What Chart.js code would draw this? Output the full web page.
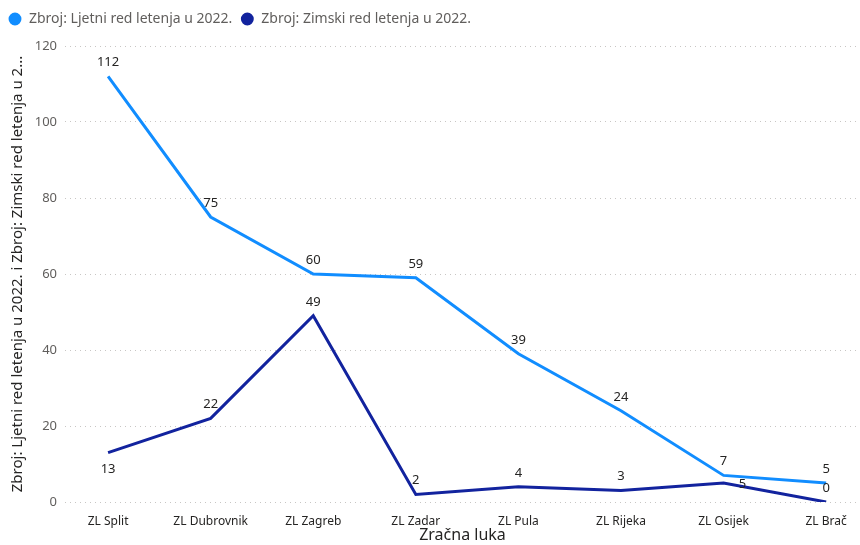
<!DOCTYPE html>
<html>
<head>
<meta charset="utf-8">
<script src="https://cdn.jsdelivr.net/npm/chart.js@4"></script>
<style>
  html, body { margin: 0; padding: 0; background: #fff; }
  #wrap { width: 860px; height: 545px; }
</style>
</head>
<body>
<div id="wrap"><canvas id="flightsChart" width="860" height="545"></canvas></div>
<script>
const airports = ['ZL Split', 'ZL Dubrovnik', 'ZL Zagreb', 'ZL Zadar', 'ZL Pula', 'ZL Rijeka', 'ZL Osijek', 'ZL Brač'];
const summer2022 = [112, 75, 60, 59, 39, 24, 7, 5];
const winter2022 = [13, 22, 49, 2, 4, 3, 5, 0];
const yTicks = [0, 20, 40, 60, 80, 100, 120];

const FONT = '"Segoe UI", "Noto Sans", sans-serif';
const GREY = '#605E5C';
const DARK = '#252423';

// value labels next to each point; a few are nudged so they don't sit on the line
const valueLabels = {
    id: 'valueLabels',
    afterDatasetsDraw(chart) {
        const ctx = chart.ctx;
        ctx.save();
        ctx.font = '13px ' + FONT;
        ctx.fillStyle = DARK;
        ctx.textAlign = 'center';
        ctx.textBaseline = 'middle';
        chart.data.datasets.forEach((ds, di) => {
            chart.getDatasetMeta(di).data.forEach((pt, i) => {
                let dx = 0, dy = -14;
                if (di === 1 && i === 0) dy = 17;
                if (di === 1 && i === 6) { dx = 19; dy = 1; }
                ctx.fillText(String(ds.data[i].y), pt.x + dx, pt.y + dy);
            });
        });
        ctx.restore();
    }
};

const legendHeight = {
    id: 'legendHeight',
    beforeInit(chart) {
        const fit = chart.legend.fit;
        chart.legend.fit = function () {
            fit.call(this);
            this.height = 42;
        };
    }
};

const toPoints = arr => arr.map((v, i) => ({ x: i, y: v }));

new Chart(document.getElementById('flightsChart'), {
    type: 'line',
    data: {
        datasets: [{
            label: 'Zbroj: Ljetni red letenja u 2022.',
            data: toPoints(summer2022),
            borderColor: '#118DFF',
            backgroundColor: '#118DFF',
            borderWidth: 3,
            pointRadius: 0,
            tension: 0
        }, {
            label: 'Zbroj: Zimski red letenja u 2022.',
            data: toPoints(winter2022),
            borderColor: '#12239E',
            backgroundColor: '#12239E',
            borderWidth: 3,
            pointRadius: 0,
            tension: 0
        }]
    },
    options: {
        responsive: false,
        animation: false,
        layout: { padding: { left: 0, right: 0, top: 4, bottom: 0 } },
        plugins: {
            legend: {
                align: 'start',
                labels: {
                    usePointStyle: true,
                    pointStyle: 'circle',
                    boxHeight: 7,
                    padding: 8,
                    color: GREY,
                    font: { family: FONT, size: 14 }
                }
            },
            tooltip: { enabled: false }
        },
        scales: {
            x: {
                type: 'linear',
                min: -0.42,
                max: 7.33,
                afterBuildTicks(scale) {
                    scale.ticks = airports.map((_, i) => ({ value: i }));
                },
                afterFit(scale) { scale.height = 43; },
                ticks: {
                    callback: v => airports[v],
                    color: DARK,
                    font: { family: FONT, size: 12 },
                    padding: 4,
                    maxRotation: 0
                },
                grid: { display: false },
                border: { display: false },
                title: {
                    display: true,
                    text: 'Zračna luka',
                    color: DARK,
                    font: { family: FONT, size: 16 },
                    padding: { top: 2, bottom: 0 }
                }
            },
            y: {
                min: 0,
                max: 120,
                afterBuildTicks(scale) {
                    scale.ticks = yTicks.map(v => ({ value: v }));
                },
                afterFit(scale) { scale.width = 65; },
                ticks: {
                    color: GREY,
                    font: { family: FONT, size: 13 },
                    padding: 8
                },
                grid: {
                    color: '#C8C6C4',
                    lineWidth: 1,
                    drawTicks: false
                },
                border: { display: false, dash: [1, 4] },
                title: {
                    display: true,
                    text: 'Zbroj: Ljetni red letenja u 2022. i Zbroj: Zimski red letenja u 2...',
                    color: DARK,
                    font: { family: FONT, size: 15 },
                    padding: { top: 9, bottom: 0 }
                }
            }
        }
    },
    plugins: [valueLabels, legendHeight]
});
</script>
</body>
</html>
